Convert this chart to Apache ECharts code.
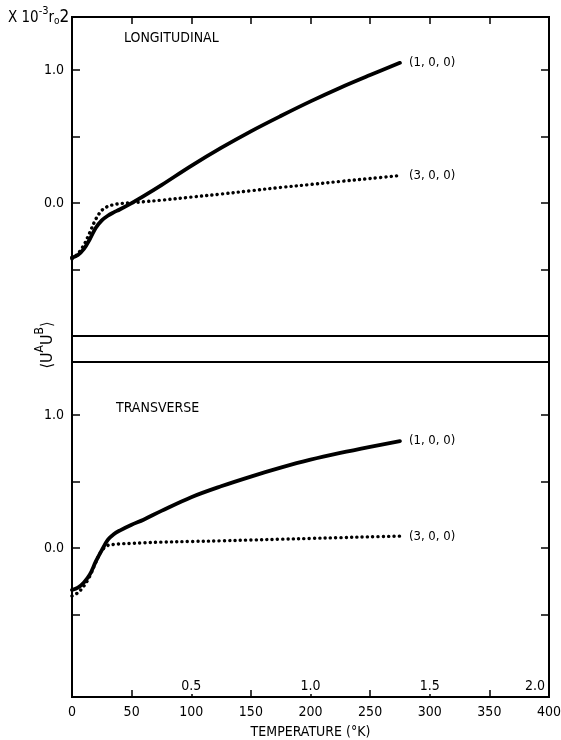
<!DOCTYPE html>
<html>
<head>
<meta charset="utf-8">
<script src="https://cdn.jsdelivr.net/npm/echarts@6/dist/echarts.min.js"></script>
<style>
html,body{margin:0;padding:0;background:#fff;}
#c{width:561px;height:740px;}
</style>
</head>
<body>
<div id="c"></div>
<script>
// ---- data ----
const temperatures = [0,5,10,15,20,25,30,35,40,50,60,75,100,125,150,175,200,225,250,275];
const longitudinal100 = [-0.41,-0.39,-0.345,-0.27,-0.185,-0.13,-0.095,-0.07,-0.048,0.0,0.052,0.135,0.28,0.415,0.54,0.655,0.765,0.868,0.963,1.055];
const longitudinal300 = [-0.42,-0.38,-0.315,-0.22,-0.12,-0.055,-0.025,-0.012,-0.004,0.003,0.01,0.022,0.045,0.068,0.093,0.118,0.14,0.163,0.185,0.207];
const transverse100   = [-0.315,-0.297,-0.258,-0.198,-0.10,-0.015,0.062,0.105,0.132,0.176,0.214,0.28,0.383,0.465,0.538,0.605,0.665,0.716,0.762,0.805];
const transverse300   = [-0.36,-0.335,-0.285,-0.21,-0.105,-0.018,0.02,0.028,0.032,0.036,0.04,0.045,0.05,0.055,0.061,0.067,0.073,0.079,0.085,0.09];
const seriesNames = ['(1, 0, 0)', '(3, 0, 0)'];
const panelTitles = ['LONGITUDINAL', 'TRANSVERSE'];
const xTickLabels = [0,50,100,150,200,250,300,350,400];
const xMajorTicks = [50,150,250,350];
const reducedTicks = [100,200,300,400];   // labelled 0.5 ... 2.0
const yTickValues = [-0.5,0,0.5,1.0];
const yLabelValues = [0,1.0];

const FONT = "'Liberation Sans Narrow','DejaVu Sans Condensed','Liberation Sans',sans-serif";
const INK = '#000';
const W = 'normal';

function pairs(v){ return temperatures.map((t,i)=>[t,v[i]]); }

const chart = echarts.init(document.getElementById('c'), null, {renderer:'canvas'});

function yAxisCfg(grid, min, max, right){
  return {
    type:'value', gridIndex:grid, min:min, max:max, position: right?'right':'left',
    axisLine:{show:false, onZero:false}, splitLine:{show:false},
    axisTick:{show:true, inside:true, length:8, customValues:yTickValues, lineStyle:{color:INK,width:1.5}},
    axisLabel:{show:!right, customValues:yLabelValues, margin:8, color:INK, fontFamily:FONT, fontSize:14, fontWeight:W,
      formatter:v=>v.toFixed(1)}
  };
}

function lineSeries(name, values, xi, yi, dotted){
  return {
    type:'line', name:name, xAxisIndex:xi, yAxisIndex:yi, data:pairs(values),
    showSymbol:false, smooth:0.35, silent:true, animation:false,
    lineStyle: dotted ? {color:INK, width:3.4, type:[0.1,5.2], cap:'round'} : {color:INK, width:3.8, cap:'round'},
    endLabel:{show:true, formatter:name, distance:9, color:INK, fontFamily:FONT, fontSize:13, fontWeight:W}
  };
}

const gridBase = {left:72, right:12, show:true, borderColor:INK, borderWidth:2, backgroundColor:'transparent', outerBoundsMode:'none', containLabel:false};

const option = {
  backgroundColor:'#fff',
  animation:false,
  title:[
    {text:panelTitles[0], left:124, top:31, padding:0, textStyle:{fontFamily:FONT, fontSize:14, fontWeight:W, color:INK}},
    {text:panelTitles[1], left:116, top:401, padding:0, textStyle:{fontFamily:FONT, fontSize:14, fontWeight:W, color:INK}}
  ],
  grid:[
    Object.assign({top:17, height:319}, gridBase),
    Object.assign({top:362, height:335}, gridBase),
    Object.assign({top:336, height:26}, gridBase)
  ],
  xAxis:[
    {type:'value', gridIndex:0, min:0, max:400, interval:50, position:'top',
      axisLine:{show:false, onZero:false}, splitLine:{show:false}, axisLabel:{show:false},
      axisTick:{show:true, inside:true, length:7, lineStyle:{color:INK,width:1.5}}},
    {type:'value', gridIndex:1, min:0, max:400, position:'bottom',
      axisLine:{show:false, onZero:false}, splitLine:{show:false},
      axisTick:{show:true, inside:true, length:7, customValues:xMajorTicks, lineStyle:{color:INK,width:1.5}},
      axisLabel:{customValues:xTickLabels, showMinLabel:true, showMaxLabel:true, margin:8, color:INK, fontFamily:FONT, fontSize:14, fontWeight:W},
      name:'TEMPERATURE (°K)', nameLocation:'middle', nameGap:28,
      nameTextStyle:{color:INK, fontFamily:FONT, fontSize:14, fontWeight:W}},
    {type:'value', gridIndex:1, min:0, max:400, position:'bottom',
      axisLine:{show:false, onZero:false}, splitLine:{show:false},
      axisTick:{show:true, inside:true, length:3, customValues:reducedTicks, lineStyle:{color:INK,width:1.5}},
      axisLabel:{inside:true, customValues:reducedTicks, showMaxLabel:true, margin:4, color:INK, fontFamily:FONT, fontSize:14, fontWeight:W,
        formatter:v=> v===400 ? '{r|' + (v/200).toFixed(1) + '}' : (v/200).toFixed(1),
        rich:{r:{fontFamily:FONT, fontSize:14, fontWeight:W, color:INK, padding:[0,28,0,0]}}}},
    {type:'value', gridIndex:2, min:0, max:400, show:false}
  ],
  yAxis:[
    yAxisCfg(0,-1.0,1.4,false),
    yAxisCfg(0,-1.0,1.4,true),
    yAxisCfg(1,-1.12,1.4,false),
    yAxisCfg(1,-1.12,1.4,true),
    {type:'value', gridIndex:2, min:0, max:1, show:false}
  ],
  series:[
    lineSeries(seriesNames[0], longitudinal100, 0, 0, false),
    lineSeries(seriesNames[1], longitudinal300, 0, 0, true),
    lineSeries(seriesNames[0], transverse100, 1, 2, false),
    lineSeries(seriesNames[1], transverse300, 1, 2, true)
  ],
  graphic:[
    {type:'text', left:8, top:6, silent:true,
      style:{text:'{n|X 10}{s|-3}{n|r}{b|o}{t|2}', fontFamily:FONT, fill:INK,
        rich:{
          n:{fontSize:15, fontFamily:FONT, fontWeight:W, color:INK, verticalAlign:'bottom', lineHeight:20},
          t:{fontSize:17, fontFamily:FONT, fontWeight:W, color:INK, verticalAlign:'bottom', lineHeight:20},
          s:{fontSize:11, fontFamily:FONT, fontWeight:W, color:INK, verticalAlign:'top', lineHeight:20},
          b:{fontSize:10, fontFamily:FONT, fontWeight:W, color:INK, verticalAlign:'bottom', lineHeight:12}
        }}},
    {type:'text', x:45, y:345, rotation:Math.PI/2, silent:true,
      style:{text:'{n|⟨U}{s|A}{n|U}{s|B}{n|⟩}', align:'center', verticalAlign:'middle', fill:INK,
        rich:{
          n:{fontSize:16, fontFamily:FONT, color:INK, verticalAlign:'bottom', lineHeight:22},
          s:{fontSize:12, fontFamily:FONT, color:INK, verticalAlign:'top', lineHeight:22}
        }}}
  ]
};
chart.setOption(option);
</script>
</body>
</html>
